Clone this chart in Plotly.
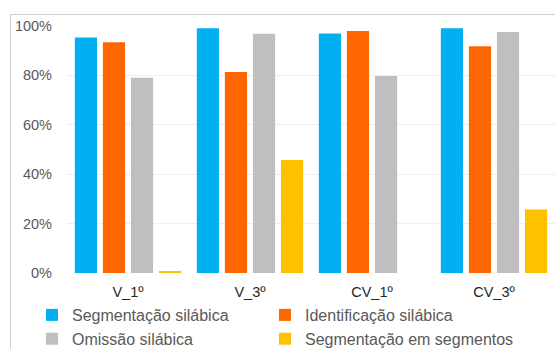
import plotly.graph_objects as go

categories = ["V_1º", "V_3º", "CV_1º", "CV_3º"]
series_names = ["Segmentação silábica", "Identificação silábica",
                "Omissão silábica", "Segmentação em segmentos"]
seg_silabica = [0.953, 0.991, 0.970, 0.991]
ident_silabica = [0.934, 0.814, 0.980, 0.918]
omissao_silabica = [0.790, 0.969, 0.798, 0.976]
seg_segmentos = [0.008, 0.457, 0.0, 0.257]
colors = ["#00B0F0", "#FF6600", "#BFBFBF", "#FFC000"]
legend_ids = ["legend", "legend2", "legend", "legend2"]
y_ticks = [0, 0.2, 0.4, 0.6, 0.8, 1.0]
y_tick_labels = ["0%", "20%", "40%", "60%", "80%", "100%"]

fig = go.Figure()
for name, vals, col, lg in zip(series_names,
                               [seg_silabica, ident_silabica, omissao_silabica, seg_segmentos],
                               colors, legend_ids):
    fig.add_trace(go.Bar(x=categories, y=vals, name=name, legend=lg,
                         marker=dict(color=col, line=dict(width=0))))

W, H = 555, 349
L, R, T, B = 67, 0, 26, 76
pw, ph = W - L - R, H - T - B

def px_x(x):
    return (x - L) / pw

def px_y(y):
    return (H - B - y) / ph

leg_common = dict(orientation="v", xanchor="left", yanchor="top",
                  font=dict(size=16, color="#595959"), bgcolor="rgba(0,0,0,0)",
                  traceorder="normal")

fig.update_layout(
    width=W, height=H,
    margin=dict(l=L, r=R, t=T, b=B, pad=0, autoexpand=False),
    paper_bgcolor="white", plot_bgcolor="white",
    font=dict(family="Liberation Sans, Arial, sans-serif", size=14.5, color="#595959"),
    barmode="group", bargap=0.08, bargroupgap=0.21,
    showlegend=True,
    legend=dict(x=px_x(32), y=px_y(298), **leg_common),
    legend2=dict(x=px_x(265), y=px_y(298), **leg_common),
    xaxis=dict(showgrid=False, showline=False, zeroline=False, ticks="",
               tickfont=dict(size=14.5, color="#262626"), ticklabelstandoff=8),
    yaxis=dict(range=[0, 1.0], tickvals=y_ticks, ticktext=y_tick_labels,
               showgrid=True, gridcolor="#EFEFEF", gridwidth=1,
               zeroline=False, showline=False, ticks="", ticklabelstandoff=14,
               tickfont=dict(size=14.5, color="#595959")),
    shapes=[
        dict(type="line", xref="paper", yref="paper",
             x0=px_x(10.5), x1=px_x(10.5), y0=px_y(349), y1=px_y(14.5),
             line=dict(color="#D0D0D0", width=1)),
        dict(type="line", xref="paper", yref="paper",
             x0=px_x(10.5), x1=px_x(556), y0=px_y(14.5), y1=px_y(14.5),
             line=dict(color="#D0D0D0", width=1)),
    ],
)

fig.write_html("out.html")
